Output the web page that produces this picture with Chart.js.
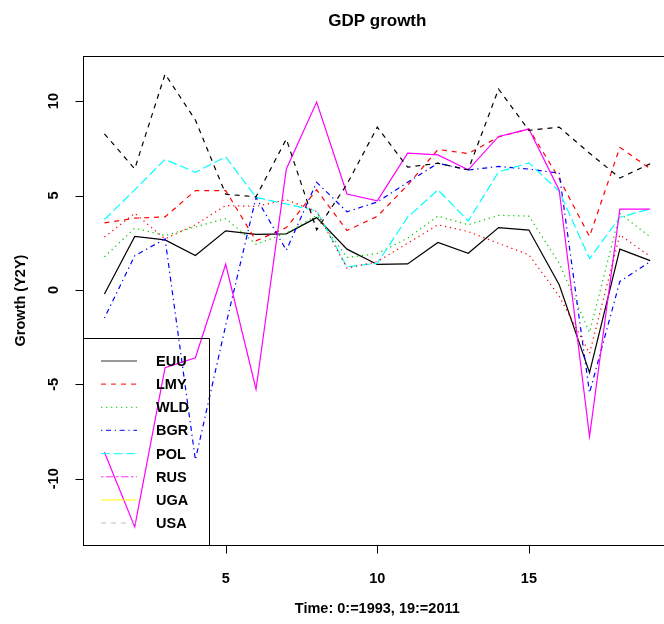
<!DOCTYPE html>
<html>
<head>
<meta charset="utf-8">
<script src="https://cdn.jsdelivr.net/npm/chart.js@4.4.1/dist/chart.umd.min.js"></script>
<style>
  html, body { margin: 0; padding: 0; background: #fff; overflow: hidden; width: 664px; height: 624px; }
  canvas { display: block; }
</style>
</head>
<body>
<canvas id="gdp" width="714" height="624"></canvas>
<script>
// Time index (1 = 1993 ... 19 = 2011)
const periods = [1, 2, 3, 4, 5, 6, 7, 8, 9, 10, 11, 12, 13, 14, 15, 16, 17, 18, 19];

// Annual GDP growth, %
const EUU = [-0.22, 2.83, 2.65, 1.82, 3.13, 2.94, 2.97, 3.83, 2.16, 1.35, 1.38, 2.51, 1.94, 3.30, 3.17, 0.27, -4.38, 2.16, 1.55];
const LMY = [3.55, 3.80, 3.87, 5.26, 5.26, 2.60, 3.30, 5.30, 3.15, 3.90, 5.55, 7.44, 7.22, 8.10, 8.53, 5.90, 2.83, 7.55, 6.42];
const WLD = [1.75, 3.27, 2.88, 3.34, 3.78, 2.42, 3.00, 3.95, 1.72, 1.92, 2.74, 3.91, 3.45, 3.95, 3.91, 1.41, -2.25, 4.05, 2.81];
const BGR = [-1.49, 1.81, 2.70, -9.00, -1.88, 4.90, 2.10, 5.70, 4.14, 4.66, 5.70, 6.71, 6.35, 6.54, 6.40, 6.18, -5.45, 0.45, 1.50];
const POL = [3.73, 5.30, 6.91, 6.23, 7.05, 4.90, 4.55, 4.18, 1.22, 1.41, 3.85, 5.30, 3.65, 6.25, 6.73, 5.22, 1.66, 3.85, 4.29];
const RUS = [-8.60, -12.55, -4.12, -3.59, 1.36, -5.26, 6.41, 9.95, 5.08, 4.72, 7.24, 7.15, 6.36, 8.13, 8.52, 5.28, -7.77, 4.28, 4.28];
const UGA = [8.27, 6.41, 11.43, 9.00, 5.07, 4.93, 7.99, 3.18, 5.60, 8.62, 6.50, 6.71, 6.36, 10.64, 8.45, 8.62, 7.24, 5.93, 6.68];
const USA = [2.80, 4.06, 2.70, 3.45, 4.47, 4.42, 4.78, 4.15, 1.15, 1.50, 2.47, 3.45, 3.09, 2.47, 1.86, -0.33, -3.36, 2.92, 1.77];

const seriesNames = ['EUU', 'LMY', 'WLD', 'BGR', 'POL', 'RUS', 'UGA', 'USA'];
const seriesValues = [EUU, LMY, WLD, BGR, POL, RUS, UGA, USA];

// Axis ticks and texts
const xTicks = [5, 10, 15];
const yTicks = [-10, -5, 0, 5, 10];
const titleText = 'GDP growth';
const xTitle = 'Time: 0:=1993, 19:=2011';
const yTitle = 'Growth (Y2Y)';

// Plot lines: colours cycle through 6, line types through 5
const plotColors = ['#000000', '#FF0000', '#00CD00', '#0000FF', '#00FFFF', '#FF00FF', '#000000', '#FF0000'];
const plotDash = [[], [5, 5], [1.3, 3.7], [1.3, 3.7, 5, 3.7], [9, 3.7], [], [5, 5], [1.3, 3.7]];
// Legend keys: 8 colours, 6 line types
const legendColors = ['#000000', '#FF0000', '#00CD00', '#0000FF', '#00FFFF', '#FF00FF', '#FFFF00', '#BEBEBE'];
const legendDash = [[], [5, 5], [1.3, 3.7], [1.3, 3.7, 5, 3.7], [9, 3.7], [2.5, 2.5, 7.5, 2.5], [], [5, 5]];

// Axis ranges padded by 4% on each side
function padRange(lo, hi) { const d = hi - lo; return [lo - 0.04 * d, hi + 0.04 * d]; }
const allVals = seriesValues.flat();
const [yMin, yMax] = padRange(Math.min(...allVals), Math.max(...allVals));
const [xMin, xMax] = padRange(Math.min(...periods), Math.max(...periods));

const FONT = '"Liberation Sans", Arial, Helvetica, sans-serif';

const datasets = seriesNames.map((name, i) => ({
  label: name,
  data: periods.map((p, k) => ({ x: p, y: seriesValues[i][k] })),
  borderColor: plotColors[i],
  borderDash: plotDash[i],
  borderWidth: 1.2,
  borderCapStyle: 'butt',
  pointRadius: 0,
  tension: 0,
  fill: false,
  order: seriesNames.length - i
}));

const basePlot = {
  id: 'basePlot',
  beforeDraw(chart) {
    const ctx = chart.ctx;
    ctx.save();
    ctx.fillStyle = '#fff';
    ctx.fillRect(0, 0, chart.width, chart.height);
    ctx.restore();
  },
  afterDraw(chart) {
    const ctx = chart.ctx;
    const a = chart.chartArea;
    const xs = chart.scales.x, ys = chart.scales.y;
    ctx.save();
    ctx.strokeStyle = '#000';
    ctx.lineWidth = 1;
    ctx.setLineDash([]);

    // frame
    ctx.strokeRect(Math.round(a.left) + 0.5, Math.round(a.top) + 0.5,
      Math.round(a.right - a.left), Math.round(a.bottom - a.top));

    // x axis ticks and labels
    ctx.fillStyle = '#000';
    ctx.font = 'bold 14.5px ' + FONT;
    ctx.textAlign = 'center';
    ctx.textBaseline = 'middle';
    const xb = Math.round(a.bottom) + 0.5;
    ctx.beginPath();
    ctx.moveTo(xs.getPixelForValue(xTicks[0]), xb);
    ctx.lineTo(xs.getPixelForValue(xTicks[xTicks.length - 1]), xb);
    xTicks.forEach(t => {
      const px = Math.round(xs.getPixelForValue(t)) + 0.5;
      ctx.moveTo(px, xb);
      ctx.lineTo(px, xb + 8);
    });
    ctx.stroke();
    xTicks.forEach(t => ctx.fillText(String(t), xs.getPixelForValue(t), a.bottom + 34));

    // y axis ticks and rotated labels
    const yl = Math.round(a.left) + 0.5;
    ctx.beginPath();
    ctx.moveTo(yl, ys.getPixelForValue(yTicks[0]));
    ctx.lineTo(yl, ys.getPixelForValue(yTicks[yTicks.length - 1]));
    yTicks.forEach(t => {
      const py = Math.round(ys.getPixelForValue(t)) + 0.5;
      ctx.moveTo(yl, py);
      ctx.lineTo(yl - 8, py);
    });
    ctx.stroke();
    yTicks.forEach(t => {
      ctx.save();
      ctx.translate(a.left - 29, ys.getPixelForValue(t));
      ctx.rotate(-Math.PI / 2);
      ctx.fillText(String(t), 0, 0);
      ctx.restore();
    });

    // titles
    const cx = (a.left + a.right) / 2;
    ctx.fillText(xTitle, cx, a.bottom + 64);
    ctx.save();
    ctx.translate(21, (a.top + a.bottom) / 2);
    ctx.rotate(-Math.PI / 2);
    ctx.fillText(yTitle, 0, 0);
    ctx.restore();
    ctx.font = 'bold 17px ' + FONT;
    ctx.fillText(titleText, cx, 21);

    // legend, bottom-left inside the plot
    const boxL = Math.round(a.left) + 0.5, boxR = 209.5, boxT = 338.5, boxB = Math.round(a.bottom) + 0.5;
    ctx.strokeStyle = '#000';
    ctx.beginPath();
    ctx.rect(boxL, boxT, boxR - boxL, boxB - boxT);
    ctx.stroke();
    ctx.font = 'bold 14.5px ' + FONT;
    ctx.textAlign = 'left';
    const rowStep = 23.15;
    seriesNames.forEach((name, i) => {
      const y = 361 + i * rowStep;
      ctx.save();
      ctx.globalAlpha = 0.8;
      ctx.lineWidth = 1.2;
      ctx.strokeStyle = legendColors[i];
      ctx.setLineDash(legendDash[i]);
      ctx.lineCap = 'butt';
      ctx.beginPath();
      ctx.moveTo(101, y);
      ctx.lineTo(137, y);
      ctx.stroke();
      ctx.restore();
      ctx.fillStyle = '#000';
      ctx.fillText(name, 156, y + 1);
    });
    ctx.restore();
  }
};

new Chart(document.getElementById('gdp'), {
  type: 'line',
  data: { datasets },
  options: {
    responsive: false,
    animation: false,
    devicePixelRatio: 1,
    layout: { padding: { left: 82.6, top: 56, right: 42, bottom: 79 } },
    plugins: { legend: { display: false }, title: { display: false }, tooltip: { enabled: false } },
    scales: {
      x: { type: 'linear', min: xMin, max: xMax, display: false },
      y: { type: 'linear', min: yMin, max: yMax, display: false }
    }
  },
  plugins: [basePlot]
});
</script>
</body>
</html>
